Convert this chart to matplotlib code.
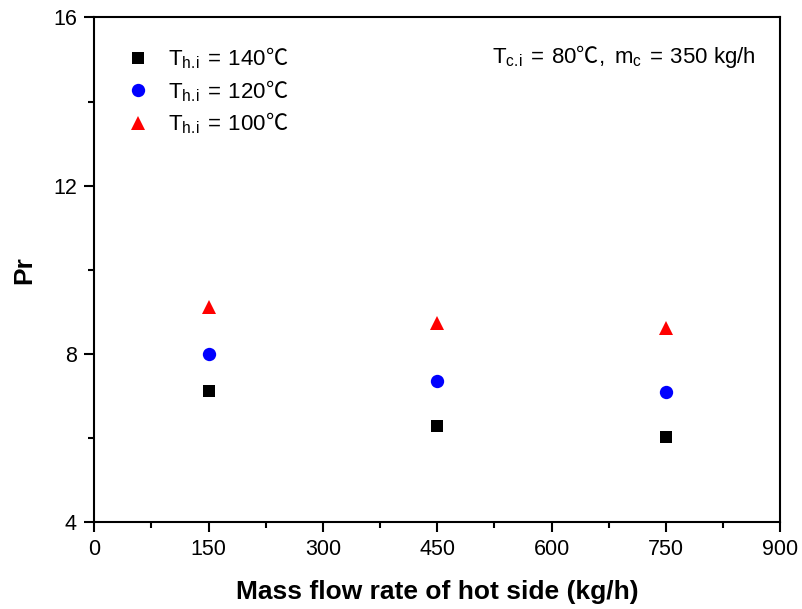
import matplotlib
matplotlib.use("Agg")
import matplotlib.pyplot as plt
from matplotlib.ticker import MultipleLocator

plt.rcParams['font.family'] = ['Liberation Sans', 'Noto Sans CJK SC', 'DejaVu Sans']
plt.rcParams['mathtext.fontset'] = 'custom'
plt.rcParams['mathtext.rm'] = 'Liberation Sans'
plt.rcParams['mathtext.it'] = 'Liberation Sans'
plt.rcParams['mathtext.bf'] = 'Liberation Sans:bold'

flow = [150, 450, 750]
pr_140 = [7.10, 6.29, 6.02]
pr_120 = [7.98, 7.36, 7.09]
pr_100 = [9.10, 8.74, 8.61]

labels = [r'$\mathrm{T_{h.\!i}\:=\:140}$℃',
          r'$\mathrm{T_{h.\!i}\:=\:120}$℃',
          r'$\mathrm{T_{h.\!i}\:=\:100}$℃']
note = r'$\mathrm{T_{c.\!i}\:=\:80}$℃$\mathrm{,\ m_c\:=\:350\ kg/h}$'

fig = plt.figure(figsize=(8.02, 6.09), dpi=100)
ax = fig.add_axes([0.1176, 0.1433, 0.9730 - 0.1176, 0.9713 - 0.1433])

ax.plot(flow, pr_140, linestyle='none', marker='s', ms=8.4, color='black', mew=0, label=labels[0])
ax.plot(flow, pr_120, linestyle='none', marker='o', ms=9.6, color='#0000ff', mew=0, label=labels[1])
ax.plot(flow, pr_100, linestyle='none', marker='^', ms=10.5, color='#ff0000', mew=0, label=labels[2])

ax.set_xlim(0, 900)
ax.set_ylim(4, 16)
ax.xaxis.set_major_locator(MultipleLocator(150))
ax.xaxis.set_minor_locator(MultipleLocator(75))
ax.yaxis.set_major_locator(MultipleLocator(4))
ax.yaxis.set_minor_locator(MultipleLocator(2))

for s in ax.spines.values():
    s.set_linewidth(1.5)

ax.tick_params(which='major', direction='out', length=7.5, width=1.5, labelsize=15.5, pad=5)
ax.tick_params(which='minor', direction='out', length=4, width=1.5)

ax.set_xlabel('Mass flow rate of hot side (kg/h)', fontsize=19, fontweight='bold', labelpad=14)
ax.set_ylabel('Pr', fontsize=19, fontweight='bold', labelpad=12)

cjk = {'family': 'Noto Sans CJK SC', 'size': 16}
leg = ax.legend(loc='upper left', bbox_to_anchor=(0.01, 0.984), frameon=False, prop=cjk,
                handletextpad=0.6, labelspacing=0.31, handlelength=1.5)

ax.text(0.9636, 0.9097, note, transform=ax.transAxes, ha='right', va='baseline',
        fontsize=16, family='Noto Sans CJK SC')

fig.savefig('out.png', dpi=100)
